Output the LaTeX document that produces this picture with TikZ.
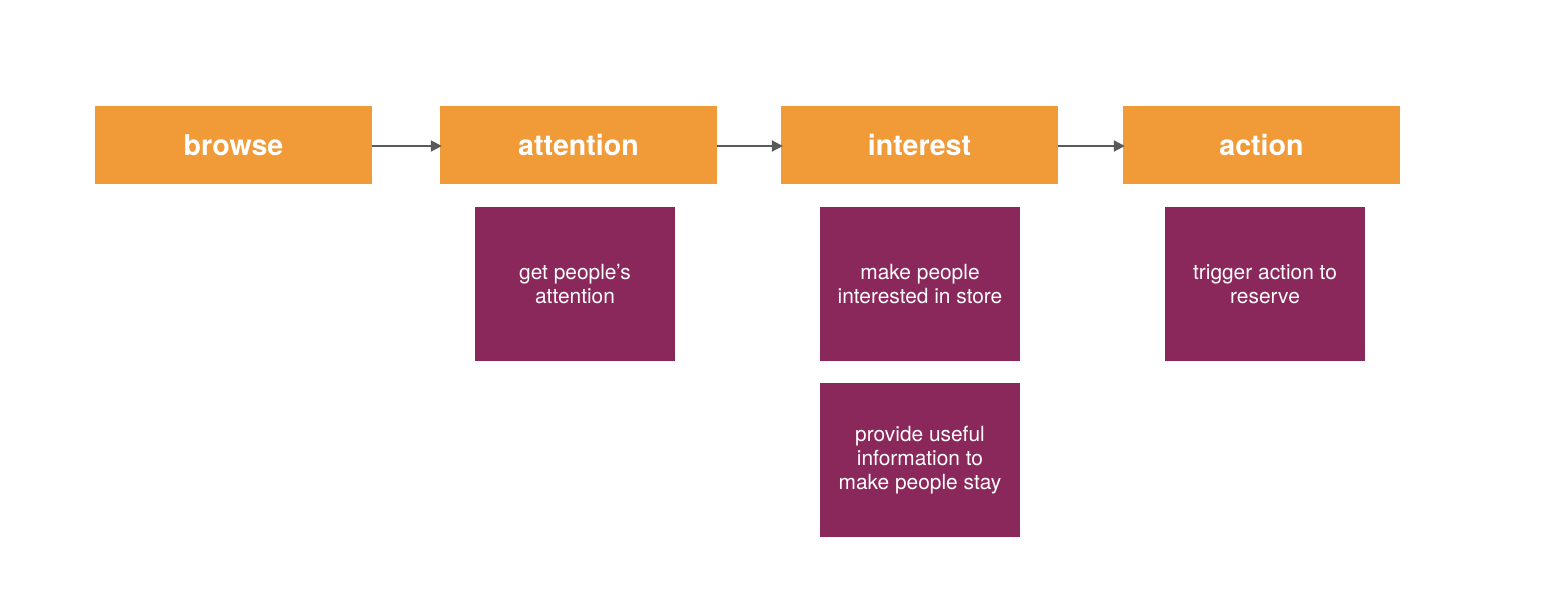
\documentclass[tikz,border=0pt]{standalone}
\usepackage{fontspec}
\setmainfont{TeX Gyre Heros}
\usepackage{xcolor}
\usetikzlibrary{arrows.meta,positioning}

\definecolor{stageorange}{HTML}{F09A38}
\definecolor{goalpurple}{HTML}{8B285B}
\definecolor{flowgray}{HTML}{5A5A5A}

\tikzset{
    stagebox/.style={rectangle, fill=stageorange, text=white, inner sep=0pt,
        minimum width=277pt, minimum height=78pt,
        font=\fontsize{28.6}{34}\selectfont\bfseries},
    goalbox/.style={rectangle, fill=goalpurple, text=white, inner sep=0pt,
        minimum width=200pt, minimum height=154pt, align=center,
        font=\fontsize{20.9}{24}\selectfont},
    flow/.style={flowgray, line width=2pt, shorten >=-2pt,
        -{Triangle[length=11pt,width=11pt]}}
}

\begin{document}
\begin{tikzpicture}[x=1pt,y=-1pt]
    \useasboundingbox (0,0) rectangle (1564,614);
    % Stages
    \node[stagebox] (browse) at (233.5,145) {browse};
    \node[stagebox] (attention) at (578.5,145) {attention};
    \node[stagebox] (interest) at (919.5,145) {interest};
    \node[stagebox] (action) at (1261.5,145) {action};
    % Flow between stages
    \draw[flow] ([yshift=-1pt]browse.east) -- ([yshift=-1pt]attention.west);
    \draw[flow] ([yshift=-1pt]attention.east) -- ([yshift=-1pt]interest.west);
    \draw[flow] ([yshift=-1pt]interest.east) -- ([yshift=-1pt]action.west);
    % Goals
    \node[goalbox] (getattention) at (575,284) {get people’s\\attention};
    \node[goalbox] (makeinterested) at (920,284) {make people\\interested in store};
    \node[goalbox] (provideinfo) at (920,460) {provide useful\\information to\\make people stay};
    \node[goalbox] (triggeraction) at (1265,284) {trigger action to\\reserve};
\end{tikzpicture}
\end{document}
